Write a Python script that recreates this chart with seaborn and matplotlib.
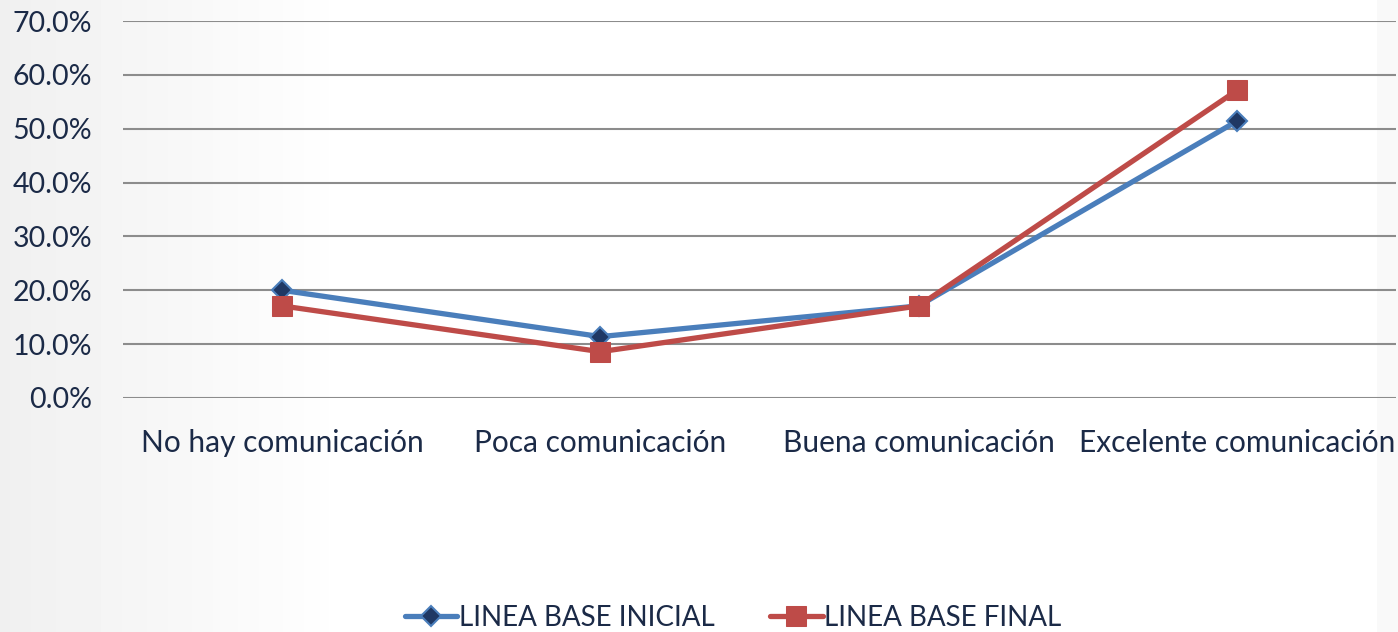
import numpy as np
import pandas as pd
import matplotlib
matplotlib.use("Agg")
import matplotlib.pyplot as plt
import seaborn as sns
from matplotlib.ticker import PercentFormatter

categorias = ["No hay comunicación", "Poca comunicación", "Buena comunicación", "Excelente comunicación"]
linea_inicial = [0.200, 0.114, 0.171, 0.514]
linea_final = [0.171, 0.086, 0.171, 0.571]
series = ["LINEA BASE INICIAL", "LINEA BASE FINAL"]
y_ticks = [0.0, 0.1, 0.2, 0.3, 0.4, 0.5, 0.6, 0.7]

df = pd.DataFrame({
    "categoria": categorias * 2,
    "valor": linea_inicial + linea_final,
    "serie": [series[0]] * 4 + [series[1]] * 4,
})

sns.set_theme(style="white")
plt.rcParams["font.family"] = ["Lato", "DejaVu Sans"]

text_color = "#1B2A47"
blue = "#4A7EBB"
red = "#BE4B48"

fig = plt.figure(figsize=(13.98, 6.32), dpi=100)

# soft gray fade on the left edge, like the slide background
bg = fig.add_axes([0, 0, 1, 1], zorder=-1)
grad = np.linspace(0, 1, 400)
fade = np.clip(grad / 0.25, 0, 1)
row = 0.94 + 0.06 * fade
row[-6:] = 0.975
img = np.tile(row, (10, 1))
bg.imshow(img, cmap="gray", vmin=0, vmax=1, aspect="auto", extent=[0, 1, 0, 1])
bg.axis("off")

ax = fig.add_axes([123 / 1398, 1 - 398 / 632, (1396 - 123) / 1398, (398 - 21) / 632])
ax.patch.set_alpha(0)

sns.lineplot(data=df[df["serie"] == series[0]], x="categoria", y="valor", ax=ax,
             color=blue, lw=3.8, marker="D", markersize=10, markerfacecolor="#1F3864",
             markeredgecolor=blue, markeredgewidth=1.5, label=series[0], zorder=3)
sns.lineplot(data=df[df["serie"] == series[1]], x="categoria", y="valor", ax=ax,
             color=red, lw=3.8, marker="s", markersize=14, markerfacecolor=red,
             markeredgecolor=red, label=series[1], zorder=4)

ax.set_xlim(-0.5, 3.5)
ax.set_ylim(0, 0.7)
ax.set_yticks(y_ticks)
ax.yaxis.set_major_formatter(PercentFormatter(1.0, decimals=1))
ax.grid(axis="y", color="#8C8C8C", lw=1.5)
ax.grid(axis="x", visible=False)
ax.set_axisbelow(True)
for s in ax.spines.values():
    s.set_visible(False)
ax.set_xlabel("")
ax.set_ylabel("")
ax.tick_params(axis="y", length=0, labelsize=20.5, colors=text_color, pad=22)
ax.tick_params(axis="x", length=0, labelsize=21.5, colors=text_color, pad=22)

ax.legend(loc="center", bbox_to_anchor=(733 / 1398, 1 - 618 / 632),
          bbox_transform=fig.transFigure, ncol=2, frameon=False, fontsize=20,
          labelcolor=text_color, handlelength=1.9, handletextpad=0.05, columnspacing=2.0)

fig.savefig("out.png", dpi=100)
